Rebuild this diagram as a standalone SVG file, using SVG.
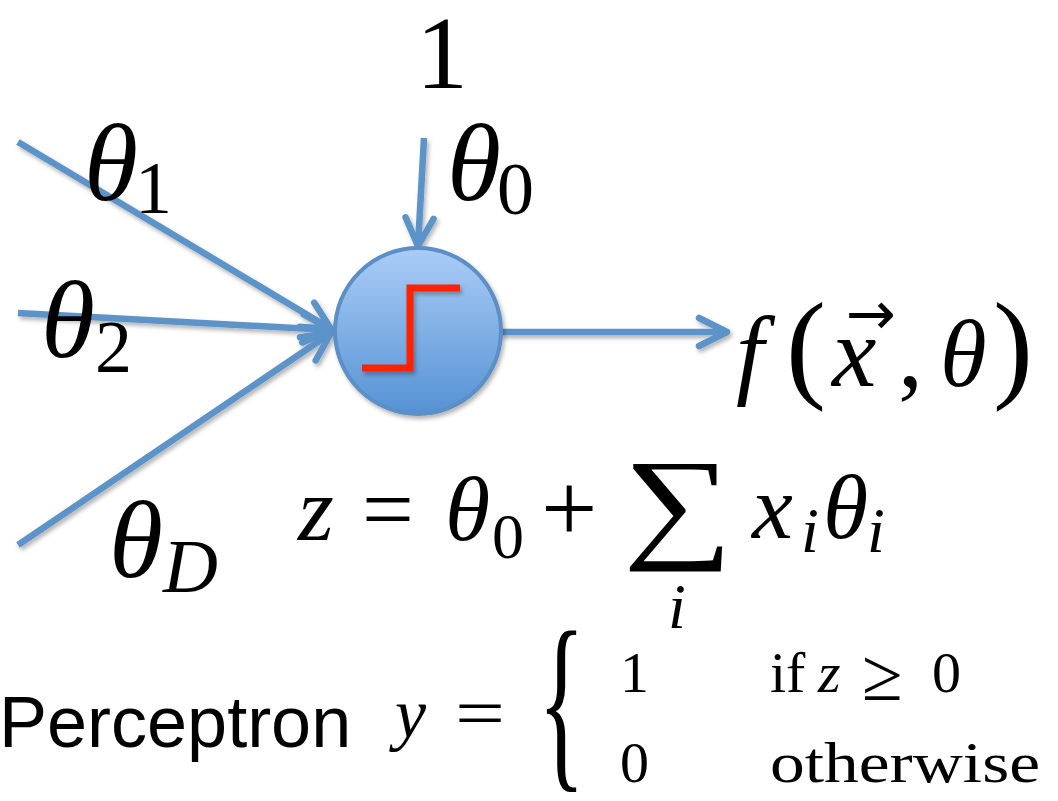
<svg xmlns="http://www.w3.org/2000/svg" width="1058" height="801" viewBox="0 0 1058 801">
<style>
.m{font-family:'Liberation Serif','DejaVu Serif',serif;font-style:italic;fill:#000}
.r{font-family:'Liberation Serif','DejaVu Serif',serif;font-style:normal;fill:#000}
.s{font-family:'Liberation Sans',Arial,sans-serif;fill:#000}
.ln{stroke:#5b93c9;stroke-width:6.5;fill:none;stroke-linecap:butt}
</style>
<defs>
<linearGradient id="g" x1="0" y1="0" x2="0" y2="1">
<stop offset="0" stop-color="#abcdf7"/>
<stop offset="1" stop-color="#5592d4"/>
</linearGradient>
<filter id="sh" x="-20%" y="-20%" width="140%" height="140%">
<feDropShadow dx="2" dy="3" stdDeviation="2" flood-color="#000" flood-opacity="0.3"/>
</filter>
<marker id="ah" markerUnits="userSpaceOnUse" viewBox="-36 -20 42 40" refX="0" refY="0" markerWidth="42" markerHeight="40" orient="auto">
<path d="M -28 -14 L 0 0 L -28 14" fill="none" stroke="#5b93c9" stroke-width="6.5" stroke-linecap="round" stroke-linejoin="round"/>
</marker>
</defs>
<rect width="1058" height="801" fill="#fff"/>

<g id="connectors" filter="url(#sh)">
<line class="ln" x1="18" y1="142" x2="331" y2="329" marker-end="url(#ah)"/>
<line class="ln" x1="18" y1="313" x2="331" y2="330" marker-end="url(#ah)"/>
<line class="ln" x1="18" y1="545" x2="331" y2="333" marker-end="url(#ah)"/>
<line class="ln" x1="424" y1="138" x2="418" y2="246" marker-end="url(#ah)"/>
<line class="ln" x1="500" y1="332" x2="727" y2="332" marker-end="url(#ah)"/>
</g>

<g id="neuron">
<circle cx="418" cy="331" r="83" fill="url(#g)" stroke="#5b8fc6" stroke-width="4" filter="url(#sh)"/>
<polyline points="362,368 410,368 410,288 460,288" fill="none" stroke="#ff2200" stroke-width="7" filter="url(#sh)"/>
</g>

<g id="bias-input">
<text class="r" x="442" y="88" font-size="104" text-anchor="middle">1</text>
</g>

<g id="label-theta0">
<text class="m" x="447" y="200" font-size="110">θ</text>
<text class="r" x="497" y="214" font-size="74">0</text>
</g>
<g id="label-theta1">
<text class="m" x="84" y="200" font-size="110">θ</text>
<text class="r" x="135" y="213" font-size="74">1</text>
</g>
<g id="label-theta2">
<text class="m" x="41" y="357" font-size="110">θ</text>
<text class="r" x="95" y="372" font-size="74">2</text>
</g>
<g id="label-thetaD">
<text class="m" x="109" y="577" font-size="110">θ</text>
<text class="m" x="163" y="592" font-size="76">D</text>
</g>

<g id="output">
<text class="m" x="736" y="386" font-size="100">f</text>
<text class="r" x="786" y="386" font-size="120">(</text>
<text class="m" x="832" y="386" font-size="100">x</text>
<text x="846" y="334" font-size="60" font-family="'DejaVu Sans',sans-serif" textLength="50" lengthAdjust="spacingAndGlyphs">→</text>
<text class="r" x="898" y="386" font-size="100">,</text>
<text class="m" x="940" y="386" font-size="95">θ</text>
<text class="r" x="993" y="386" font-size="120">)</text>
</g>

<g id="sum-equation">
<text class="m" x="298" y="540" font-size="92">z</text>
<text class="r" x="362" y="540" font-size="92">=</text>
<text class="m" x="445" y="540" font-size="92">θ</text>
<text class="r" x="492" y="558" font-size="64">0</text>
<text class="r" x="541" y="542" font-size="100">+</text>
<text class="r" x="623" y="545" font-size="124" textLength="110" lengthAdjust="spacingAndGlyphs">∑</text>
<text class="m" x="668" y="628" font-size="64">i</text>
<text class="m" x="752" y="538" font-size="92">x</text>
<text class="m" x="801" y="552" font-size="64">i</text>
<text class="m" x="823" y="538" font-size="92">θ</text>
<text class="m" x="867" y="552" font-size="64">i</text>
</g>

<g id="perceptron-rule">
<text class="s" x="-1" y="747" font-size="72">Perceptron</text>
<text class="m" x="395" y="737" font-size="70">y</text>
<text class="r" x="455" y="737" font-size="70" textLength="50" lengthAdjust="spacingAndGlyphs">=</text>
<text class="r" transform="translate(538,766) scale(0.5,1)" font-size="196">{</text>
<text class="r" x="620" y="692" font-size="58">1</text>
<text class="r" x="770" y="692" font-size="58">if</text>
<text class="m" x="818" y="692" font-size="58">z</text>
<text class="r" x="862" y="700" font-size="74">≥</text>
<text class="r" x="932" y="692" font-size="58">0</text>
<text class="r" x="620" y="782" font-size="58">0</text>
<text class="r" x="770" y="782" font-size="58" textLength="270" lengthAdjust="spacingAndGlyphs">otherwise</text>
</g>
</svg>
